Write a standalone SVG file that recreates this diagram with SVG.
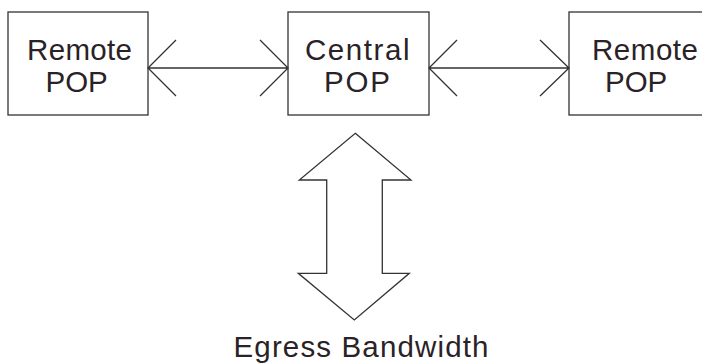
<svg xmlns="http://www.w3.org/2000/svg" width="702" height="363" viewBox="0 0 702 363">
<style>
.box{fill:#fff;stroke:#333;stroke-width:1.3}
.ln{fill:none;stroke:#333;stroke-width:1.3}
.t{font-family:"Liberation Sans",Arial,sans-serif;font-size:29.5px;fill:#2a2226}
</style>
<rect width="702" height="363" fill="#fff"/>
<g id="remote1">
<rect class="box" x="8" y="12" width="140" height="103"/>
<text class="t" x="27" y="59.5" textLength="105" lengthAdjust="spacing">Remote</text>
<text class="t" x="45.5" y="91.5">POP</text>
</g>
<g id="central">
<rect class="box" x="288" y="12" width="141" height="103"/>
<text class="t" x="305" y="59.5" textLength="104.5" lengthAdjust="spacing">Central</text>
<text class="t" x="324" y="91.5" textLength="66" lengthAdjust="spacing">POP</text>
</g>
<g id="remote2">
<rect class="box" x="569" y="12" width="140" height="103"/>
<text class="t" x="592" y="59.5" textLength="106" lengthAdjust="spacing">Remote</text>
<text class="t" x="605" y="91.5">POP</text>
</g>
<g id="connectors">
<path class="ln" d="M148 68H288M176 40L148 68L176 96M260 40L288 68L260 96"/>
<path class="ln" d="M429 68H569M457 40L429 68L457 96M540 40L569 68L540 96"/>
<path class="ln" d="M355.3 133.3L411 180H382.3V273.3H409.3L354.3 320L298.3 273.3H326.7V180H299.3Z"/>
</g>
<g id="egress">
<text class="t" x="233.5" y="356.5" textLength="255" lengthAdjust="spacing">Egress Bandwidth</text>
</g>
</svg>
